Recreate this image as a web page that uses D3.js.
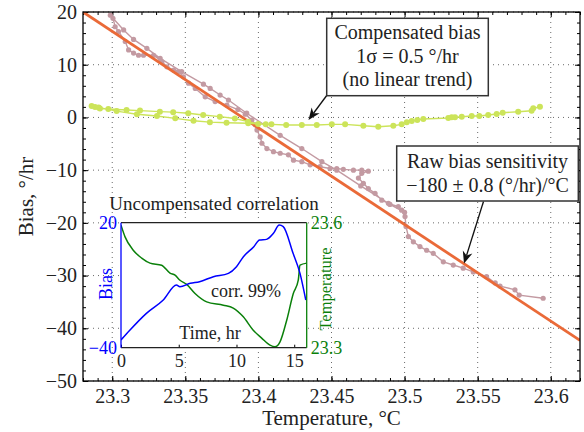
<!DOCTYPE html>
<html>
<head>
<meta charset="utf-8">
<script src="https://cdn.jsdelivr.net/npm/d3@7"></script>
<style>
  body { margin: 0; background: #fff; }
  svg { display: block; }
  svg text { font-family: "Liberation Serif", "Times New Roman", "DejaVu Serif", serif; }
</style>
</head>
<body>
<svg id="chart" width="584" height="432"></svg>
<script>
// main axes ticks
var xTicks = [23.3, 23.35, 23.4, 23.45, 23.5, 23.55, 23.6];
var yTicks = [20, 10, 0, -10, -20, -30, -40, -50];

// raw bias, time ordered (slow cooling branch, then fast warm-up branch)
var rawTemp = [23.5948, 23.5784, 23.5755, 23.5653, 23.562, 23.5561, 23.547, 23.5401, 23.5333, 23.5265,
  23.5196, 23.5151, 23.5105, 23.506, 23.5026, 23.501, 23.5003, 23.498, 23.4957, 23.4889,
  23.4844, 23.4798, 23.4752, 23.4718, 23.4684, 23.4707, 23.4752, 23.4707, 23.465, 23.4581,
  23.4536, 23.449, 23.4422, 23.4354, 23.4297, 23.424, 23.4205, 23.4149, 23.4103, 23.4058,
  23.4024, 23.4012, 23.399, 23.3978, 23.3955, 23.391, 23.386, 23.3784, 23.3704, 23.3636,
  23.3568, 23.3522, 23.3487, 23.3453, 23.342, 23.3374, 23.334, 23.3283, 23.3214, 23.318,
  23.3146, 23.3112, 23.3089, 23.3043, 23.302, 23.3005, 23.2987,
  23.3078, 23.3146, 23.3237, 23.3328, 23.3475, 23.3624, 23.367, 23.3738, 23.3795,
  23.392, 23.4149, 23.4297, 23.4434, 23.4536, 23.47, 23.49, 23.50];
var rawBias = [-34.3, -33.7, -32.7, -32.0, -31.4, -30.2, -29.3, -28.6, -28.0, -27.4,
  -25.8, -25.2, -24.5, -23.6, -22.6, -20.7, -18.8, -17.6, -16.9, -16.3,
  -15.7, -14.4, -13.5, -12.5, -11.5, -10.6, -10.2, -10.0, -10.0, -9.85,
  -9.7, -9.7, -9.35, -9.0, -8.4, -8.1, -7.1, -6.8, -6.5, -5.9,
  -4.9, -3.7, -2.4, -1.4, -0.5, 0.6, 1.5, 2.35, 3.0, 3.9,
  5.5, 6.5, 7.7, 8.7, 9.0, 9.6, 10.6, 11.8, 11.8, 11.8,
  12.2, 12.8, 14.4, 16.3, 17.2, 18.8, 19.4,
  16.6, 14.8, 13.1, 11.2, 8.7, 6.3, 5.5, 4.25, 3.3,
  0.8, -3.4, -5.9, -8.4, -10.0, -13.0, -16.5, -18.0];

// compensated bias, same time order
var compTemp = [23.5926, 23.588, 23.5869, 23.5777, 23.5671, 23.563, 23.5572, 23.5511, 23.5459, 23.5391,
  23.5345, 23.5322, 23.5299, 23.5128, 23.5087, 23.5049, 23.5015, 23.498, 23.4923, 23.482,
  23.4718, 23.4593, 23.4502, 23.4399, 23.4297, 23.419, 23.4089, 23.3998,
  23.393, 23.3839, 23.3736, 23.3622, 23.352, 23.3417, 23.3326, 23.319, 23.3098, 23.2973,
  23.2916, 23.2882, 23.2859,
  23.2907, 23.303, 23.3169, 23.3306, 23.3431, 23.3556, 23.3668, 23.3782, 23.393, 23.405];
var compBias = [2.03, 1.73, 1.27, 1.08, 0.89, 0.65, 0.46, 0.27, 0.27, 0.13,
  0.02, 0.02, -0.11, -0.30, -0.49, -0.68, -0.93, -1.31, -1.57, -1.76,
  -1.57, -1.31, -1.31, -1.44, -1.44, -1.44, -1.31, -1.25,
  -0.8, -0.2, 0.15, 0.45, 0.8, 1.0, 1.1, 1.3, 1.4, 1.6,
  1.7, 2.0, 2.16,
  1.9, 1.2, 0.6, 0.27, -0.17, -0.63, -0.9, -1.0, -1.1, -1.3];

// linear fit, end points
var fitTemp = [23.28, 23.62];
var fitBias = [20, -42.3];

// inset: time series
var insetTicks = [0, 5, 10, 15];
var biasTime = [0, 0.78, 2.2, 3.66, 4.8, 5.1, 6.0, 6.8, 8.0, 9.3, 10.0, 10.6, 11.5, 12.0, 12.6, 13.2, 13.7, 14.05, 14.9, 15.5, 16.0];
var biasVals = [-36.3, -31.5, -23.5, -17.1, -9.9, -10.7, -9.1, -8.3, -5.9, -4.3, -1.1, 3.7, 8.5, 11.7, 12.0, 14.9, 18.9, 18.1, 5.3, -4.3, -17.1];
var tempTime = [0, 0.35, 1.06, 1.79, 2.51, 3.52, 4.24, 4.68, 5.11, 5.69, 6.41, 7.42, 8.86, 9.72, 10.59, 11.45, 12.18, 12.9, 13.33, 13.77, 14.35, 14.92, 15.35, 15.5, 16.08];
var tempVals = [23.594, 23.566, 23.534, 23.515, 23.503, 23.498, 23.479, 23.474, 23.462, 23.452, 23.43, 23.41, 23.402, 23.395, 23.374, 23.342, 23.323, 23.306, 23.302, 23.314, 23.366, 23.43, 23.462, 23.498, 23.503];

var FONT = '"Liberation Serif", "Times New Roman", serif';
var svg = d3.select('#chart');
var L = 83, R = 580, T = 12, B = 381;

var x = d3.scaleLinear().domain([23.28, 23.62]).range([L, R]);
var y = d3.scaleLinear().domain([-50, 20]).range([B, T]);

var xMinor = d3.range(23.28, 23.6201, 0.01).map(function(v){ return +v.toFixed(2); });
var yMinor = d3.range(-50, 20.01, 2);

// grid
var grid = svg.append('g').attr('stroke', '#444').attr('stroke-width', 0.8).attr('stroke-dasharray', '1,4');
grid.selectAll('.gx').data(xTicks).enter().append('line')
  .attr('x1', function(d){ return x(d); }).attr('x2', function(d){ return x(d); })
  .attr('y1', T).attr('y2', B);
grid.selectAll('.gy').data(yTicks).enter().append('line')
  .attr('y1', function(d){ return y(d); }).attr('y2', function(d){ return y(d); })
  .attr('x1', L).attr('x2', R);

function styleAxis(g){
  g.select('.domain').remove();
  g.selectAll('line').attr('stroke', '#000');
  g.selectAll('text').attr('font-size', 20).attr('fill', '#222').attr('font-family', FONT);
}

// major & minor ticks on all sides, inward
svg.append('g').attr('transform', 'translate(0,' + B + ')')
  .call(d3.axisBottom(x).tickValues(xTicks).tickSize(-5).tickPadding(8).tickFormat(function(d){ return String(d); }))
  .call(styleAxis);
svg.append('g').attr('transform', 'translate(0,' + B + ')')
  .call(d3.axisBottom(x).tickValues(xMinor).tickSize(-3).tickFormat('')).call(styleAxis);
svg.append('g').attr('transform', 'translate(0,' + T + ')')
  .call(d3.axisTop(x).tickValues(xTicks).tickSize(-5).tickFormat('')).call(styleAxis);
svg.append('g').attr('transform', 'translate(0,' + T + ')')
  .call(d3.axisTop(x).tickValues(xMinor).tickSize(-3).tickFormat('')).call(styleAxis);
svg.append('g').attr('transform', 'translate(' + L + ',0)')
  .call(d3.axisLeft(y).tickValues(yTicks).tickSize(-5).tickPadding(6).tickFormat(d3.format('d')))
  .call(styleAxis);
svg.append('g').attr('transform', 'translate(' + L + ',0)')
  .call(d3.axisLeft(y).tickValues(yMinor).tickSize(-3).tickFormat('')).call(styleAxis);
svg.append('g').attr('transform', 'translate(' + R + ',0)')
  .call(d3.axisRight(y).tickValues(yTicks).tickSize(-5).tickFormat('')).call(styleAxis);
svg.append('g').attr('transform', 'translate(' + R + ',0)')
  .call(d3.axisRight(y).tickValues(yMinor).tickSize(-3).tickFormat('')).call(styleAxis);

// clip to plot box
svg.append('clipPath').attr('id', 'plotclip').append('rect')
  .attr('x', L).attr('y', T).attr('width', R - L).attr('height', B - T);
var plot = svg.append('g').attr('clip-path', 'url(#plotclip)');

var rawPts = rawTemp.map(function(t, i){ return [t, rawBias[i]]; });
var compPts = compTemp.map(function(t, i){ return [t, compBias[i]]; });
var fitPts = fitTemp.map(function(t, i){ return [t, fitBias[i]]; });

var line = d3.line().x(function(d){ return x(d[0]); }).y(function(d){ return y(d[1]); });

var rawColor = '#c39aa2', compColor = '#cce45a', fitColor = '#ea6a38';

plot.append('path').datum(rawPts).attr('d', line)
  .attr('fill', 'none').attr('stroke', rawColor).attr('stroke-width', 1.4);
plot.selectAll('.rawdot').data(rawPts).enter().append('circle')
  .attr('cx', function(d){ return x(d[0]); }).attr('cy', function(d){ return y(d[1]); })
  .attr('r', 2.6).attr('fill', rawColor);

plot.append('path').datum(fitPts).attr('d', line)
  .attr('fill', 'none').attr('stroke', fitColor).attr('stroke-width', 2.8);

plot.append('path').datum(compPts).attr('d', line)
  .attr('fill', 'none').attr('stroke', compColor).attr('stroke-width', 1.4);
plot.selectAll('.compdot').data(compPts).enter().append('circle')
  .attr('cx', function(d){ return x(d[0]); }).attr('cy', function(d){ return y(d[1]); })
  .attr('r', 3).attr('fill', compColor);

// plot frame
svg.append('rect').attr('x', L).attr('y', T).attr('width', R - L).attr('height', B - T)
  .attr('fill', 'none').attr('stroke', '#000').attr('stroke-width', 1.3);

// axis labels
svg.append('text').attr('x', (L + R) / 2).attr('y', 425).attr('text-anchor', 'middle')
  .attr('font-family', FONT).attr('font-size', 21).attr('fill', '#222').text('Temperature, °C');
svg.append('text').attr('transform', 'translate(33,' + ((T + B) / 2) + ') rotate(-90)')
  .attr('text-anchor', 'middle').attr('font-family', FONT).attr('font-size', 21).attr('fill', '#222').text('Bias, °/hr');

// ---------- inset ----------
var iL = 121, iR = 306.7, iT = 222.7, iB = 347.7;
var ti = d3.scaleLinear().domain([0, 16.08]).range([iL, iR]);
var yb = d3.scaleLinear().domain([-40, 20]).range([iB, iT]);
var yt = d3.scaleLinear().domain([23.3, 23.6]).range([iB, iT]);
var blue = '#0000ff', green = '#0a800a';

var inset = svg.append('g');
inset.append('rect').attr('x', iL).attr('y', iT).attr('width', iR - iL).attr('height', iB - iT).attr('fill', '#fff');

inset.append('clipPath').attr('id', 'insetclip').append('rect')
  .attr('x', iL).attr('y', iT - 1).attr('width', iR - iL).attr('height', iB - iT + 2);
var ic = inset.append('g').attr('clip-path', 'url(#insetclip)');

ic.append('path').datum(tempTime.map(function(t, i){ return [t, tempVals[i]]; }))
  .attr('d', d3.line().curve(d3.curveMonotoneX).x(function(d){ return ti(d[0]); }).y(function(d){ return yt(d[1]); }))
  .attr('fill', 'none').attr('stroke', green).attr('stroke-width', 1.5);
ic.append('path').datum(biasTime.map(function(t, i){ return [t, biasVals[i]]; }))
  .attr('d', d3.line().curve(d3.curveMonotoneX).x(function(d){ return ti(d[0]); }).y(function(d){ return yb(d[1]); }))
  .attr('fill', 'none').attr('stroke', blue).attr('stroke-width', 1.5);

inset.append('g').attr('transform', 'translate(0,' + iB + ')')
  .call(d3.axisBottom(ti).tickValues(insetTicks).tickSize(-3).tickPadding(7))
  .call(function(g){
    g.select('.domain').remove();
    g.selectAll('line').attr('stroke', '#000');
    g.selectAll('text').attr('font-size', 18).attr('fill', '#222').attr('font-family', FONT);
  });

// inset frame: black top/bottom, blue left, green right
inset.append('line').attr('x1', iL).attr('x2', iR).attr('y1', iT).attr('y2', iT).attr('stroke', '#222').attr('stroke-width', 1.3);
inset.append('line').attr('x1', iL).attr('x2', iR).attr('y1', iB).attr('y2', iB).attr('stroke', '#222').attr('stroke-width', 1.3);
inset.append('line').attr('x1', iL).attr('x2', iL).attr('y1', iT).attr('y2', iB).attr('stroke', blue).attr('stroke-width', 1.3);
inset.append('line').attr('x1', iR).attr('x2', iR).attr('y1', iT).attr('y2', iB).attr('stroke', green).attr('stroke-width', 1.3);

function itext(xp, yp, s, anchor, color, size, rot){
  var t = inset.append('text').attr('text-anchor', anchor).attr('font-family', FONT)
    .attr('font-size', size).attr('fill', color).text(s);
  if (rot) t.attr('transform', 'translate(' + xp + ',' + yp + ') rotate(-90)');
  else t.attr('x', xp).attr('y', yp);
}
itext(iL - 4, yb(20) + 6, '20', 'end', blue, 18);
itext(iL - 4, yb(-40) + 6, '−40', 'end', blue, 18);
itext(iR + 4, yt(23.6) + 6, '23.6', 'start', green, 18);
itext(iR + 4, yt(23.3) + 6, '23.3', 'start', green, 18);
itext(112, 284, 'Bias', 'middle', blue, 18, true);
itext(331, 289, 'Temperature', 'middle', green, 16.5, true);
itext(214, 210, 'Uncompensated correlation', 'middle', '#222', 19);
itext(246, 297, 'corr. 99%', 'middle', '#222', 18);
itext(210, 339, 'Time, hr', 'middle', '#222', 18);

// ---------- annotations ----------
function arrow(x1, y1, x2, y2){
  var a = Math.atan2(y2 - y1, x2 - x1), len = 12, w = 5;
  var bx = x2 - len * Math.cos(a), by = y2 - len * Math.sin(a);
  var nx = -Math.sin(a), ny = Math.cos(a);
  var mx = x2 - 0.7 * len * Math.cos(a), my = y2 - 0.7 * len * Math.sin(a);
  svg.append('line').attr('x1', x1).attr('y1', y1).attr('x2', mx).attr('y2', my)
    .attr('stroke', '#111').attr('stroke-width', 1.3);
  svg.append('path')
    .attr('d', 'M' + x2 + ',' + y2 + 'L' + (bx + nx * w) + ',' + (by + ny * w) +
      'L' + mx + ',' + my + 'L' + (bx - nx * w) + ',' + (by - ny * w) + 'Z')
    .attr('fill', '#111');
}

function box(x0, y0, w, h, lines, cx, baselines){
  svg.append('rect').attr('x', x0).attr('y', y0).attr('width', w).attr('height', h)
    .attr('fill', '#fff').attr('stroke', '#333').attr('stroke-width', 1.5);
  lines.forEach(function(s, i){
    svg.append('text').attr('x', cx).attr('y', baselines[i]).attr('text-anchor', 'middle')
      .attr('font-family', FONT).attr('font-size', 20).attr('fill', '#222').text(s);
  });
}

arrow(326.7, 95.5, 308.5, 120);
box(326.7, 18.3, 161.6, 77.4, ['Compensated bias', '1σ = 0.5 °/hr', '(no linear trend)'], 407.5, [39, 63, 86]);

arrow(483.5, 201.5, 464, 263.5);
box(396.7, 146, 181.6, 55, ['Raw bias sensitivity', '−180 ± 0.8 (°/hr)/°C'], 487.5, [168, 192]);
</script>
</body>
</html>
